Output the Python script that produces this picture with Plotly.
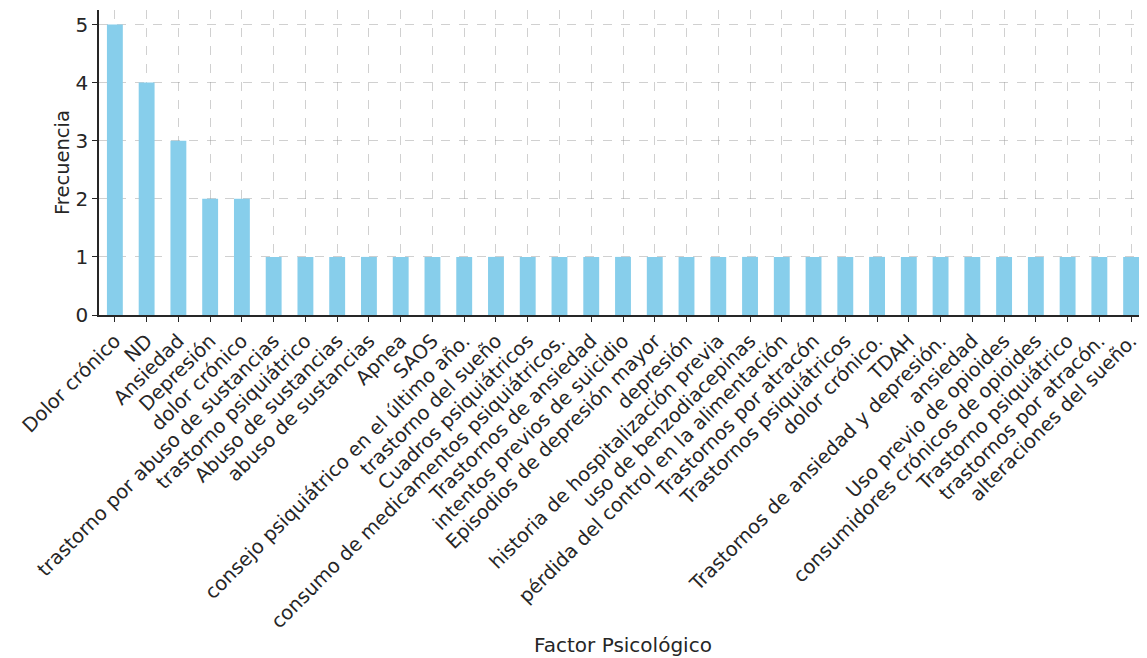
import plotly.graph_objects as go

factores = [
    "Dolor crónico", "ND", "Ansiedad", "Depresión", "dolor crónico",
    "trastorno por abuso de sustancias", "trastorno psiquiátrico",
    "Abuso de sustancias", "abuso de sustancias", "Apnea", "SAOS",
    "consejo psiquiátrico en el último año.", "trastorno del sueño",
    "Cuadros psiquiátricos", "consumo de medicamentos psiquiátricos.",
    "Trastornos de ansiedad", "intentos previos de suicidio",
    "Episodios de depresión mayor", "depresión",
    "historia de hospitalización previa", "uso de benzodiacepinas",
    "pérdida del control en la alimentación", "Trastornos por atracón",
    "Trastornos psiquiátricos", "dolor crónico.", "TDAH",
    "Trastornos de ansiedad y depresión.", "ansiedad",
    "Uso previo de opioides", "consumidores crónicos de opioides",
    "Trastorno psiquiátrico", "trastornos por atracón.",
    "alteraciones del sueño.",
]
frecuencia = [5, 4, 3, 2, 2] + [1] * 28

y_ticks = [0, 1, 2, 3, 4, 5]

text_color = "#262626"
grid_color = "rgba(150,150,150,0.45)"

fig = go.Figure()
fig.add_trace(go.Bar(x=factores, y=frecuencia, marker=dict(color="#87CEEB", line=dict(width=0))))

# page body adds an 8px margin, so the figure is a bit smaller than the window
fig.update_layout(
    width=1139, height=650,
    margin=dict(l=91, r=0, t=2, b=343),
    plot_bgcolor="white", paper_bgcolor="white",
    bargap=0.5,
    showlegend=False,
    font=dict(family="DejaVu Sans", size=20, color=text_color),
)
fig.update_xaxes(
    type="category",
    range=[-0.5, 32.5],
    automargin=False,
    layer="above traces",
    tickangle=-45,
    ticks="outside", ticklen=5, tickwidth=1.2, tickcolor=text_color,
    showline=True, linecolor=text_color, linewidth=1.5,
    showgrid=True, gridcolor=grid_color, griddash="dash", gridwidth=1,
    title=dict(text="Factor Psicológico", font=dict(size=20), standoff=4),
    tickfont=dict(size=19.5),
)
fig.update_yaxes(
    range=[0, 5.25],
    automargin=False,
    layer="above traces",
    tickvals=y_ticks,
    ticks="outside", ticklen=5, tickwidth=1.2, tickcolor=text_color,
    showline=True, linecolor=text_color, linewidth=1.5,
    showgrid=True, gridcolor=grid_color, griddash="dash", gridwidth=1,
    zeroline=False,
    title=dict(text="Frecuencia", font=dict(size=19.5), standoff=1),
    tickfont=dict(size=20),
)

fig.write_html("out.html")
